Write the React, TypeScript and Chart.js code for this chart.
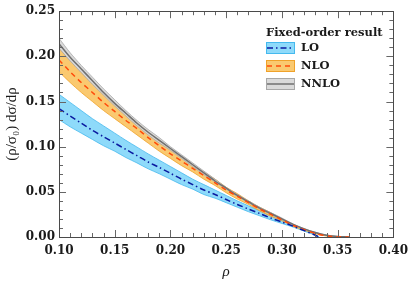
import React, { useEffect, useRef } from "react";
import { Chart, registerables } from "chart.js";

Chart.register(...registerables);

const RHO_LO = [0.10,0.11,0.12,0.13,0.14,0.15,0.16,0.17,0.18,0.19,0.20,0.21,0.22,0.23,0.24,0.25,0.26,0.27,0.28,0.29,0.30,0.31,0.32,0.33,0.3333];
const LO_MID = [0.142,0.134,0.126,0.118,0.111,0.104,0.097,0.090,0.083,0.077,0.0705,0.064,0.058,0.052,0.047,0.0415,0.036,0.031,0.026,0.021,0.0166,0.012,0.007,0.002,0];
const LO_UP = [0.158,0.149,0.140,0.131,0.123,0.115,0.107,0.0995,0.092,0.085,0.078,0.071,0.064,0.058,0.052,0.046,0.040,0.0345,0.029,0.0235,0.0185,0.0135,0.008,0.0025,0];
const LO_DN = [0.130,0.122,0.115,0.108,0.101,0.095,0.088,0.082,0.0755,0.070,0.064,0.058,0.053,0.047,0.043,0.038,0.033,0.028,0.0235,0.019,0.015,0.011,0.0065,0.002,0];

const RHO_HO = [0.10,0.11,0.12,0.13,0.14,0.15,0.16,0.17,0.18,0.19,0.20,0.21,0.22,0.23,0.24,0.25,0.26,0.27,0.28,0.29,0.30,0.31,0.32,0.33,0.34,0.35,0.36];
const NLO_MID = [0.196,0.183,0.171,0.160,0.149,0.139,0.129,0.120,0.110,0.101,0.092,0.084,0.076,0.068,0.060,0.052,0.045,0.038,0.031,0.025,0.019,0.013,0.008,0.004,0.0012,0.0003,0];
const NLO_UP = [0.209,0.195,0.182,0.170,0.158,0.147,0.137,0.127,0.117,0.107,0.097,0.089,0.080,0.072,0.064,0.055,0.048,0.040,0.033,0.027,0.020,0.014,0.0085,0.0043,0.0015,0.0004,0];
const NLO_DN = [0.183,0.171,0.160,0.150,0.140,0.131,0.122,0.113,0.104,0.095,0.087,0.079,0.072,0.064,0.057,0.049,0.042,0.036,0.029,0.023,0.018,0.012,0.0075,0.0037,0.001,0.0002,0];
const NNLO_MID = [0.214,0.199,0.186,0.173,0.160,0.148,0.137,0.126,0.116,0.107,0.098,0.089,0.080,0.071,0.062,0.054,0.046,0.039,0.032,0.026,0.020,0.014,0.009,0.005,0.002,0.0006,0];
const NNLO_UP = [0.220,0.204,0.190,0.177,0.164,0.152,0.140,0.129,0.119,0.110,0.100,0.091,0.082,0.073,0.064,0.055,0.047,0.040,0.033,0.027,0.021,0.0145,0.0093,0.0052,0.0021,0.0007,0];
const NNLO_DN = [0.209,0.195,0.182,0.169,0.157,0.145,0.134,0.123,0.113,0.104,0.096,0.087,0.078,0.069,0.061,0.053,0.045,0.038,0.031,0.025,0.019,0.0135,0.0087,0.0048,0.0019,0.0005,0];

const SERIES_NAMES = ["LO", "NLO", "NNLO"];
const LEGEND_TITLE = "Fixed-order result";
const X_TITLE = "ρ";
const Y_TITLE = "(ρ/σ₀) dσ/dρ";
const X_TICK_LABELS = ["0.10","0.15","0.20","0.25","0.30","0.35","0.40"];
const Y_TICK_LABELS = ["0.00","0.05","0.10","0.15","0.20","0.25"];

const STYLES = [
  { fill: "rgba(130,214,250,0.9)", edge: "#45b9ee", line: "#0a1aa0", dash: [6, 3, 1.5, 3] },
  { fill: "rgba(250,196,100,0.92)", edge: "#f0a22a", line: "#ff4a0a", dash: [5, 4] },
  { fill: "rgba(214,214,214,0.9)", edge: "#a8a8a8", line: "#707070", dash: [] as number[] },
];

const pts = (xs: number[], ys: number[]) => xs.map((x, i) => ({ x, y: ys[i] }));

const TICK_FONT = '"DejaVu Serif"';

const framePlugin = {
  id: "frameTicks",
  afterDatasetsDraw(chart: any) {
    const { ctx, chartArea: a, scales } = chart;
    const xs = scales.x, ys = scales.y;
    ctx.save();
    ctx.lineWidth = 1;
    ctx.strokeStyle = "#666";
    for (let i = 0; i <= 30; i++) {
      const v = 0.1 + i * 0.01;
      const px = Math.round(xs.getPixelForValue(v)) + 0.5;
      const len = i % 5 === 0 ? 7 : 4;
      ctx.beginPath();
      ctx.moveTo(px, a.bottom); ctx.lineTo(px, a.bottom - len);
      ctx.moveTo(px, a.top); ctx.lineTo(px, a.top + len);
      ctx.stroke();
    }
    for (let i = 0; i <= 25; i++) {
      const v = i * 0.01;
      const py = Math.round(ys.getPixelForValue(v)) + 0.5;
      const len = i % 5 === 0 ? 7 : 4;
      ctx.beginPath();
      ctx.moveTo(a.left, py); ctx.lineTo(a.left + len, py);
      ctx.moveTo(a.right, py); ctx.lineTo(a.right - len, py);
      ctx.stroke();
    }
    ctx.strokeStyle = "#4a4a4a";
    ctx.strokeRect(Math.round(a.left) + 0.5, Math.round(a.top) + 0.5, Math.round(a.right - a.left), Math.round(a.bottom - a.top));
    ctx.restore();
  },
  afterDraw(chart: any) {
    const { ctx } = chart;
    ctx.save();
    ctx.fillStyle = "#1a1a1a";
    ctx.font = `bold 11.5px ${TICK_FONT}`;
    ctx.textBaseline = "middle";
    ctx.textAlign = "left";
    const bx = 266, bw = 29, bh = 12;
    ctx.fillText(LEGEND_TITLE, bx, 33);
    SERIES_NAMES.forEach((name, i) => {
      const s = STYLES[i];
      const cy = 48 + i * 18;
      ctx.fillStyle = s.fill;
      ctx.fillRect(bx, cy - bh / 2, bw, bh);
      ctx.strokeStyle = s.edge;
      ctx.lineWidth = 1;
      ctx.strokeRect(bx + 0.5, cy - bh / 2 + 0.5, bw - 1, bh - 1);
      ctx.strokeStyle = s.line;
      ctx.lineWidth = 1.5;
      ctx.setLineDash(s.dash);
      ctx.beginPath();
      ctx.moveTo(bx + 1, cy); ctx.lineTo(bx + bw - 1, cy);
      ctx.stroke();
      ctx.setLineDash([]);
      ctx.fillStyle = "#1a1a1a";
      ctx.fillText(name, 301, cy + 0.5);
    });
    ctx.restore();
  },
};

export default function App() {
  const ref = useRef<HTMLCanvasElement | null>(null);
  useEffect(() => {
    if (!ref.current) return;
    const band = (xs: number[], up: number[], dn: number[], i: number, order: number) => [
      {
        data: pts(xs, up), borderColor: STYLES[i].edge, borderWidth: 0.8, pointRadius: 0,
        fill: false, order, tension: 0.3,
      },
      {
        data: pts(xs, dn), borderColor: STYLES[i].edge, borderWidth: 0.8, pointRadius: 0,
        fill: "-1", backgroundColor: STYLES[i].fill, order, tension: 0.3,
      },
    ];
    const line = (xs: number[], ys: number[], i: number, order: number) => ({
      data: pts(xs, ys), borderColor: STYLES[i].line, borderWidth: 1.5, borderDash: STYLES[i].dash,
      pointRadius: 0, fill: false, order, tension: 0.3,
    });
    const chart = new Chart(ref.current, {
      type: "line",
      data: {
        datasets: [
          ...band(RHO_LO, LO_UP, LO_DN, 0, 12),
          ...band(RHO_HO, NLO_UP, NLO_DN, 1, 11),
          ...band(RHO_HO, NNLO_UP, NNLO_DN, 2, 10),
          line(RHO_HO, NNLO_MID, 2, 3),
          line(RHO_HO, NLO_MID, 1, 2),
          line(RHO_LO, LO_MID, 0, 1),
        ] as any,
      },
      options: {
        animation: false,
        responsive: false,
        layout: { padding: { left: 0, right: 19, top: 11, bottom: 0 } },
        plugins: { legend: { display: false }, tooltip: { enabled: false } },
        scales: {
          x: {
            type: "linear", min: 0.1, max: 0.4,
            grid: { display: false, drawTicks: false }, border: { display: false },
            ticks: {
              stepSize: 0.05, padding: 7, color: "#1a1a1a",
              font: { family: TICK_FONT, size: 12, weight: "bold" },
              maxRotation: 0,
              callback: (v: any) => {
                const idx = Math.round((Number(v) - 0.1) / 0.05);
                return X_TICK_LABELS[idx] ?? "";
              },
            },
            title: {
              display: true, text: X_TITLE, color: "#1a1a1a",
              font: { family: '"Liberation Serif"', size: 15, style: "italic" },
              padding: { top: 0, bottom: 2 },
            },
            afterFit: (s: any) => { s.height = 46; },
          },
          y: {
            type: "linear", min: 0, max: 0.25,
            grid: { display: false, drawTicks: false }, border: { display: false },
            ticks: {
              stepSize: 0.05, padding: 4, color: "#1a1a1a",
              font: { family: TICK_FONT, size: 12, weight: "bold" },
              callback: (v: any) => {
                const idx = Math.round(Number(v) / 0.05);
                return Y_TICK_LABELS[idx] ?? "";
              },
            },
            title: {
              display: true, text: Y_TITLE, color: "#1a1a1a",
              font: { family: '"Liberation Serif"', size: 15 },
              padding: { top: 3, bottom: 0 },
            },
            afterFit: (s: any) => { s.width = 59; },
          },
        },
      },
      plugins: [framePlugin],
    });
    return () => chart.destroy();
  }, []);
  return (
    <div style={{ position: "fixed", left: 0, top: 0, width: 415, height: 283, background: "#fff" }}>
      <canvas ref={ref} width={415} height={283} style={{ display: "block" }} />
    </div>
  );
}
